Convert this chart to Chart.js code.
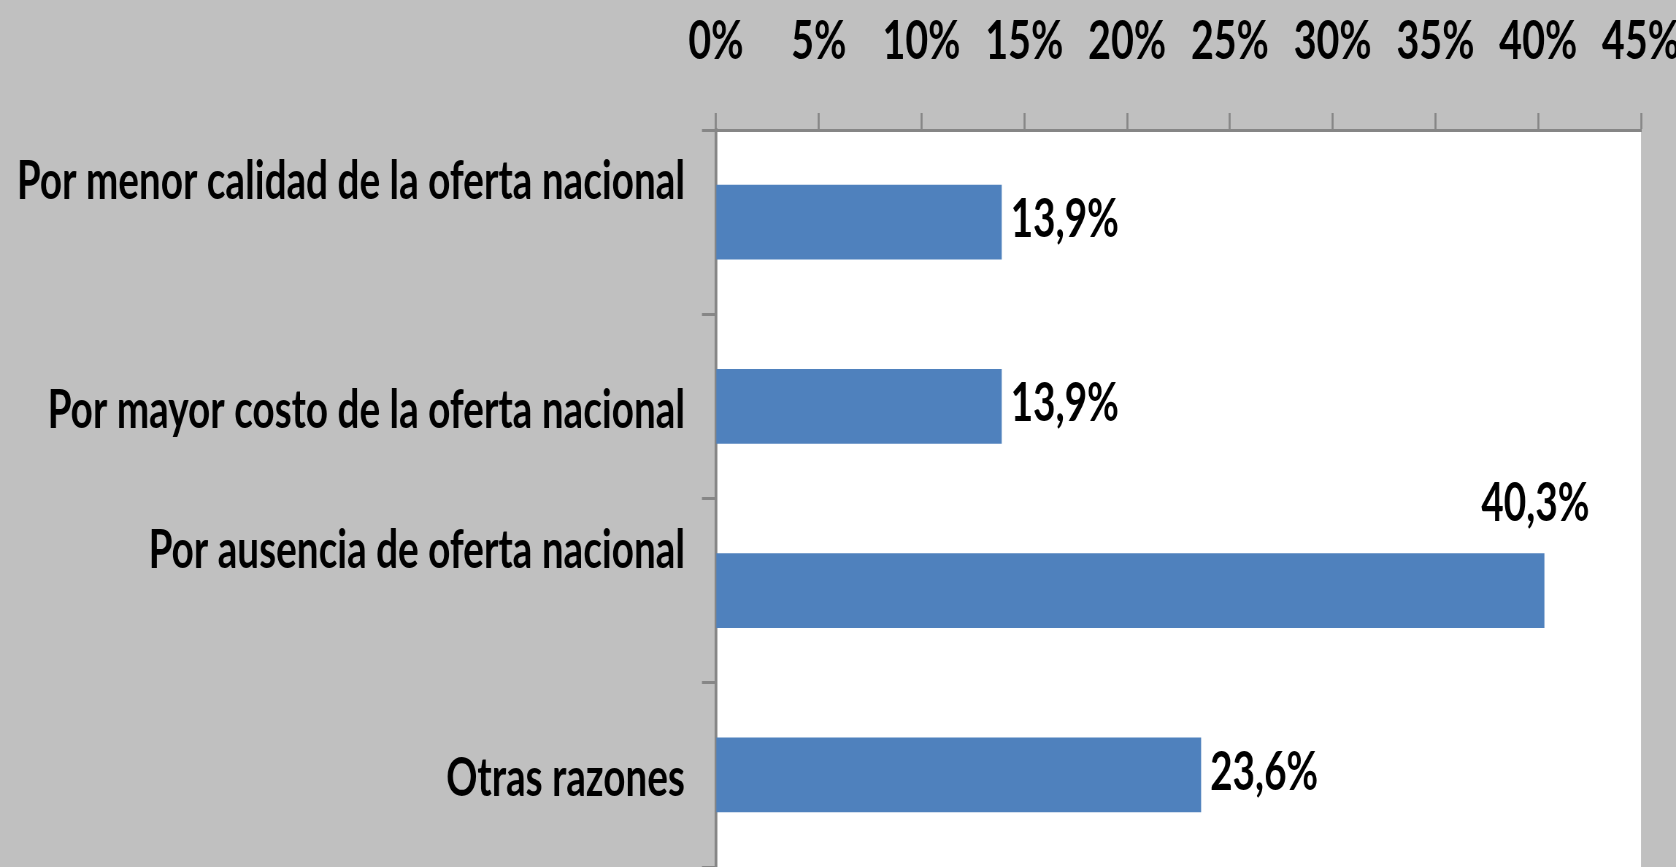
<!DOCTYPE html>
<html>
<head>
<meta charset="utf-8">
<script src="https://cdn.jsdelivr.net/npm/chart.js@4"></script>
<style>
  html, body { margin: 0; padding: 0; background: #c0c0c0; overflow: hidden; }
  #chart { display: block; }
</style>
</head>
<body>
<canvas id="chart"></canvas>
<script>
const categories = [
  'Por menor calidad de la oferta nacional',
  'Por mayor costo de la oferta nacional',
  'Por ausencia de oferta nacional',
  'Otras razones'
];
const values = [13.9, 13.9, 40.3, 23.6];
const tickLabels = ['0%', '5%', '10%', '15%', '20%', '25%', '30%', '35%', '40%', '45%'];

// the labels in the original are very narrow, so draw wider and squeeze back
const squeeze = 0.73;
const font = "Lato, 'Open Sans', sans-serif";
const px = (n) => n / squeeze;

const $chart = document.querySelector('#chart');
$chart.width = Math.round(1676 / squeeze);
$chart.height = 867;
$chart.style.width = '1676px';
$chart.style.height = '867px';
const context = $chart.getContext('2d');

const plotBackground = {
  id: 'plotBackground',
  beforeDraw(chart) {
    const { ctx, chartArea } = chart;
    ctx.save();
    ctx.fillStyle = '#ffffff';
    ctx.fillRect(chartArea.left, chartArea.top, chartArea.width, chartArea.height);
    ctx.restore();
  }
};

const valueLabels = {
  id: 'valueLabels',
  afterDatasetsDraw(chart) {
    const { ctx, chartArea } = chart;
    ctx.save();
    ctx.font = `bold 53px ${font}`;
    ctx.fillStyle = '#000';
    ctx.textBaseline = 'middle';
    chart.getDatasetMeta(0).data.forEach((bar, i) => {
      const text = values[i].toFixed(1).replace('.', ',') + '%';
      const w = ctx.measureText(text).width;
      const { height } = bar.getProps(['height'], true);
      if (bar.x + px(9) + w > chartArea.right) {
        // no room on the right: put it above the end of the bar
        ctx.textAlign = 'center';
        ctx.fillText(text, bar.x - px(9), bar.y - height / 2 - 49);
      } else {
        ctx.textAlign = 'left';
        ctx.fillText(text, bar.x + px(9), bar.y - 2);
      }
    });
    ctx.restore();
  }
};

new Chart(context, {
  type: 'bar',
  data: {
    labels: categories,
    datasets: [{
      data: values,
      backgroundColor: '#4f81bd',
      barPercentage: 0.405,
      categoryPercentage: 1
    }]
  },
  options: {
    indexAxis: 'y',
    responsive: false,
    devicePixelRatio: 1,
    animation: false,
    layout: { padding: { top: 0, right: px(35), bottom: 0, left: 0 } },
    plugins: { legend: { display: false }, tooltip: { enabled: false } },
    scales: {
      x: {
        position: 'top',
        min: 0,
        max: 45,
        ticks: {
          stepSize: 5,
          color: '#000',
          font: { family: font, size: 54, weight: 'bold' },
          padding: 39,
          maxRotation: 0,
          autoSkip: false,
          callback: (value, index) => tickLabels[index]
        },
        grid: { drawOnChartArea: false, tickLength: 17, tickColor: '#868686', tickWidth: px(2) },
        border: { color: '#868686', width: 3 },
        afterFit: (scale) => {
          scale.height = 130;
          scale.paddingLeft = 0;
          scale.paddingRight = 0;
        }
      },
      y: {
        ticks: {
          color: '#000',
          font: { family: font, size: 53, weight: 'bold', lineHeight: 1.68 },
          padding: px(17),
          labelOffset: 4.5,
          autoSkip: false,
          // first and third labels sit higher than their bars in the original
          callback: (value, index) => (index % 2 === 0 ? [categories[index], ''] : categories[index])
        },
        grid: { drawOnChartArea: false, tickLength: px(14), tickColor: '#868686', tickWidth: 3 },
        border: { color: '#868686', width: px(2.7) },
        afterFit: (scale) => {
          scale.width = px(716);
          scale.paddingTop = 0;
          scale.paddingBottom = 0;
        }
      }
    }
  },
  plugins: [plotBackground, valueLabels]
});
</script>
</body>
</html>
